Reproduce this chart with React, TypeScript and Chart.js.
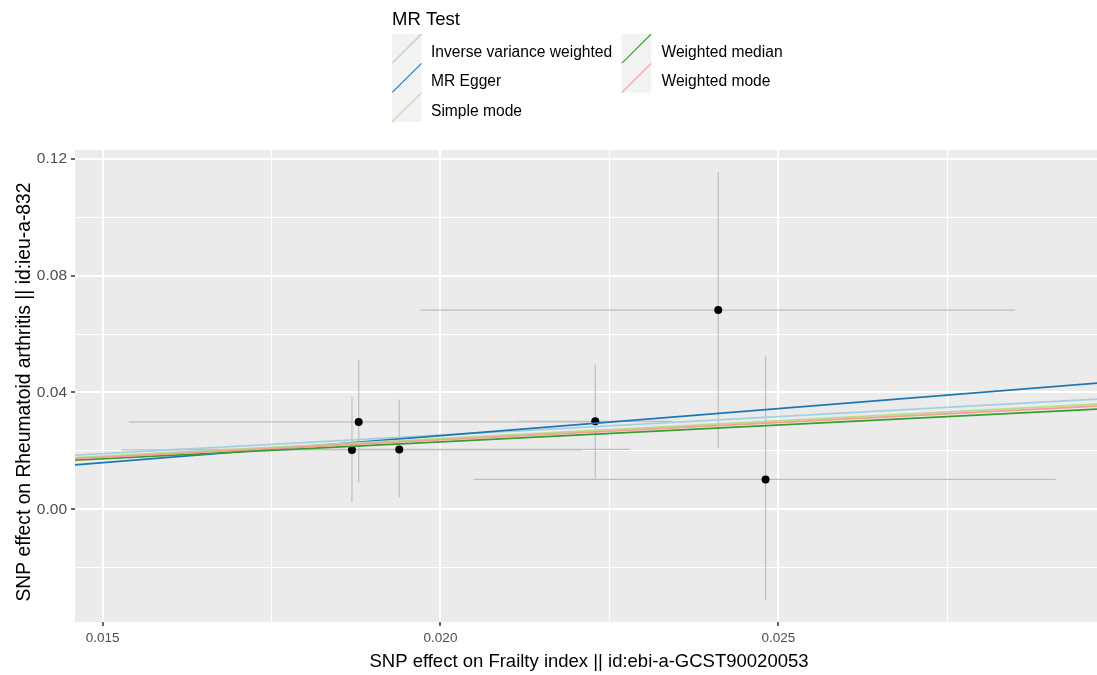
import React, { useEffect, useRef } from "react";
import { Chart, registerables } from "chart.js";

Chart.register(...registerables);

// ---- Data ----
const exposureBeta = [0.01869, 0.01879, 0.01939, 0.02229, 0.02411, 0.02481];
const exposureLo = [0.01528, 0.01539, 0.01599, 0.02115, 0.0197, 0.02049];
const exposureHi = [0.0221, 0.02219, 0.0228, 0.02343, 0.0285, 0.0291];
const outcomeBeta = [0.0203, 0.0299, 0.0205, 0.0301, 0.0682, 0.0102];
const outcomeLo = [0.0025, 0.0092, 0.004, 0.0105, 0.021, -0.0312];
const outcomeHi = [0.0385, 0.0511, 0.0376, 0.0496, 0.1155, 0.0524];

const methods = [
  "Inverse variance weighted",
  "MR Egger",
  "Simple mode",
  "Weighted median",
  "Weighted mode",
];
const intercepts = [0, -0.01184, 0, 0, 0];
const slopes = [1.269, 1.852, 1.2114, 1.1538, 1.1884];
const methodColors = ["#A6CEE3", "#1F78B4", "#B2DF8A", "#33A02C", "#FB9A99"];

const xMajorTicks = [0.015, 0.02, 0.025];
const xMinorTicks = [0.0175, 0.0225, 0.0275];
const yMajorTicks = [0, 0.04, 0.08, 0.12];
const yMinorTicks = [-0.02, 0.02, 0.06, 0.1];

const xLimits = [0.014592, 0.029714];
const yLimits = [-0.0386, 0.123];

const legendTitle = "MR Test";
const xTitle = "SNP effect on Frailty index || id:ebi-a-GCST90020053";
const yTitle = "SNP effect on Rheumatoid arthritis || id:ieu-a-832";

const FONT = "'Liberation Sans', Arial, Helvetica, sans-serif";

const isIn = (v: number, arr: number[]) => arr.some((t) => Math.abs(t - v) < 1e-9);

export default function App() {
  const ref = useRef<HTMLCanvasElement>(null);

  useEffect(() => {
    const canvas = ref.current;
    if (!canvas) return;

    const panelBg = {
      id: "panelBg",
      beforeDraw(chart: any) {
        const { ctx, chartArea: a } = chart;
        ctx.save();
        ctx.fillStyle = "#EBEBEB";
        ctx.fillRect(a.left, a.top, a.right - a.left, a.bottom - a.top);
        ctx.restore();
      },
    };

    const errorBars = {
      id: "errorBars",
      beforeDatasetsDraw(chart: any) {
        const { ctx, chartArea: a, scales } = chart;
        const xs = scales.x;
        const ys = scales.y;
        ctx.save();
        ctx.beginPath();
        ctx.rect(a.left, a.top, a.right - a.left, a.bottom - a.top);
        ctx.clip();
        ctx.strokeStyle = "#BEBEBE";
        ctx.lineWidth = 1.2;
        for (let i = 0; i < exposureBeta.length; i++) {
          const px = xs.getPixelForValue(exposureBeta[i]);
          const py = ys.getPixelForValue(outcomeBeta[i]);
          ctx.beginPath();
          ctx.moveTo(xs.getPixelForValue(exposureLo[i]), py);
          ctx.lineTo(xs.getPixelForValue(exposureHi[i]), py);
          ctx.moveTo(px, ys.getPixelForValue(outcomeLo[i]));
          ctx.lineTo(px, ys.getPixelForValue(outcomeHi[i]));
          ctx.stroke();
        }
        ctx.restore();
      },
    };

    const axisTitles = {
      id: "axisTitles",
      afterDraw(chart: any) {
        const { ctx, chartArea: a } = chart;
        ctx.save();
        ctx.fillStyle = "#000000";
        ctx.textAlign = "center";
        ctx.textBaseline = "alphabetic";
        ctx.font = `18.5px ${FONT}`;
        ctx.fillText(xTitle, (a.left + a.right) / 2 + 3, 667);
        ctx.translate(30, (a.top + a.bottom) / 2 + 6);
        ctx.rotate(-Math.PI / 2);
        ctx.font = `19.3px ${FONT}`;
        ctx.fillText(yTitle, 0, 0);
        ctx.restore();
      },
    };

    const mrLegend = {
      id: "mrLegend",
      afterDraw(chart: any) {
        const ctx = chart.ctx;
        ctx.save();
        ctx.fillStyle = "#000000";
        ctx.textBaseline = "alphabetic";
        ctx.textAlign = "left";
        ctx.font = `18.5px ${FONT}`;
        ctx.fillText(legendTitle, 392, 25);
        const lineSets = chart.data.datasets.filter((d: any) => d.showLine);
        const rows = 3;
        const keyW = 29.5;
        const keyH = 29.3;
        const top = 34;
        const keyX = [392, 621.7];
        const labelX = [431, 661.5];
        ctx.font = `15.6px ${FONT}`;
        lineSets.forEach((d: any, i: number) => {
          const col = Math.floor(i / rows);
          const row = i % rows;
          const kx = keyX[col];
          const ky = top + row * keyH;
          ctx.fillStyle = "#F2F2F2";
          ctx.fillRect(kx, ky, keyW, keyH);
          ctx.strokeStyle = d.borderColor;
          ctx.lineWidth = 1.1;
          ctx.beginPath();
          ctx.moveTo(kx, ky + keyH);
          ctx.lineTo(kx + keyW, ky);
          ctx.stroke();
          ctx.fillStyle = "#000000";
          ctx.fillText(d.label, labelX[col], ky + 23);
        });
        ctx.restore();
      },
    };

    const lineDatasets = methods.map((m, i) => ({
      label: m,
      data: xLimits.map((xv) => ({ x: xv, y: intercepts[i] + slopes[i] * xv })),
      showLine: true,
      borderColor: methodColors[i],
      backgroundColor: methodColors[i],
      borderWidth: 1.6,
      pointRadius: 0,
      pointHoverRadius: 0,
      fill: false,
      order: methods.length - i,
    }));

    const pointDataset = {
      label: "SNPs",
      data: exposureBeta.map((xv, i) => ({ x: xv, y: outcomeBeta[i] })),
      showLine: false,
      pointRadius: 4,
      pointBackgroundColor: "#000000",
      pointBorderColor: "#000000",
      pointBorderWidth: 0,
      order: 20,
    };

    const majorTick = (ctx: any, arr: number[]) =>
      ctx && ctx.tick && isIn(ctx.tick.value, arr);

    const chart = new Chart(canvas, {
      type: "scatter",
      data: { datasets: [pointDataset as any, ...lineDatasets] },
      plugins: [panelBg, errorBars, axisTitles, mrLegend],
      options: {
        animation: false,
        responsive: false,
        maintainAspectRatio: false,
        devicePixelRatio: 1,
        layout: { padding: { top: 150, left: 0, right: 0, bottom: 0 } },
        plugins: {
          legend: { display: false },
          tooltip: { enabled: false },
        },
        events: [],
        scales: {
          x: {
            type: "linear",
            position: "bottom",
            min: xLimits[0],
            max: xLimits[1],
            afterBuildTicks: (scale: any) => {
              scale.ticks = [...xMajorTicks, ...xMinorTicks]
                .sort((a, b) => a - b)
                .map((v) => ({ value: v }));
            },
            afterFit: (scale: any) => {
              scale.height = 53;
              scale.paddingLeft = 0;
              scale.paddingRight = 0;
            },
            grid: {
              color: "#FFFFFF",
              lineWidth: (ctx: any) => (majorTick(ctx, xMajorTicks) ? 2 : 1),
              tickColor: (ctx: any) =>
                majorTick(ctx, xMajorTicks) ? "#333333" : "rgba(0,0,0,0)",
              tickWidth: 1.5,
              tickLength: 4,
              drawTicks: true,
            },
            border: { display: false },
            ticks: {
              autoSkip: false,
              maxRotation: 0,
              color: "#4D4D4D",
              padding: 4,
              font: { family: FONT, size: 13.5 },
              callback: (v: any) => (isIn(Number(v), xMajorTicks) ? Number(v).toFixed(3) : ""),
            },
            title: { display: false },
          },
          y: {
            type: "linear",
            position: "left",
            min: yLimits[0],
            max: yLimits[1],
            afterBuildTicks: (scale: any) => {
              scale.ticks = [...yMajorTicks, ...yMinorTicks]
                .sort((a, b) => a - b)
                .map((v) => ({ value: v }));
            },
            afterFit: (scale: any) => {
              scale.width = 75;
              scale.paddingTop = 0;
              scale.paddingBottom = 0;
            },
            grid: {
              color: "#FFFFFF",
              lineWidth: (ctx: any) => (majorTick(ctx, yMajorTicks) ? 2 : 1),
              tickColor: (ctx: any) =>
                majorTick(ctx, yMajorTicks) ? "#333333" : "rgba(0,0,0,0)",
              tickWidth: 1.5,
              tickLength: 4,
              drawTicks: true,
            },
            border: { display: false },
            ticks: {
              autoSkip: false,
              color: "#4D4D4D",
              padding: 4,
              font: { family: FONT, size: 15.5 },
              callback: (v: any) => (isIn(Number(v), yMajorTicks) ? Number(v).toFixed(2) : ""),
            },
            title: { display: false },
          },
        },
      } as any,
    });

    return () => chart.destroy();
  }, []);

  return (
    <div
      style={{
        position: "fixed",
        left: 0,
        top: 0,
        width: 1097,
        height: 675,
        overflow: "hidden",
        background: "#FFFFFF",
      }}
    >
      <canvas ref={ref} width={1101} height={675} style={{ width: 1101, height: 675, display: "block" }} />
    </div>
  );
}
